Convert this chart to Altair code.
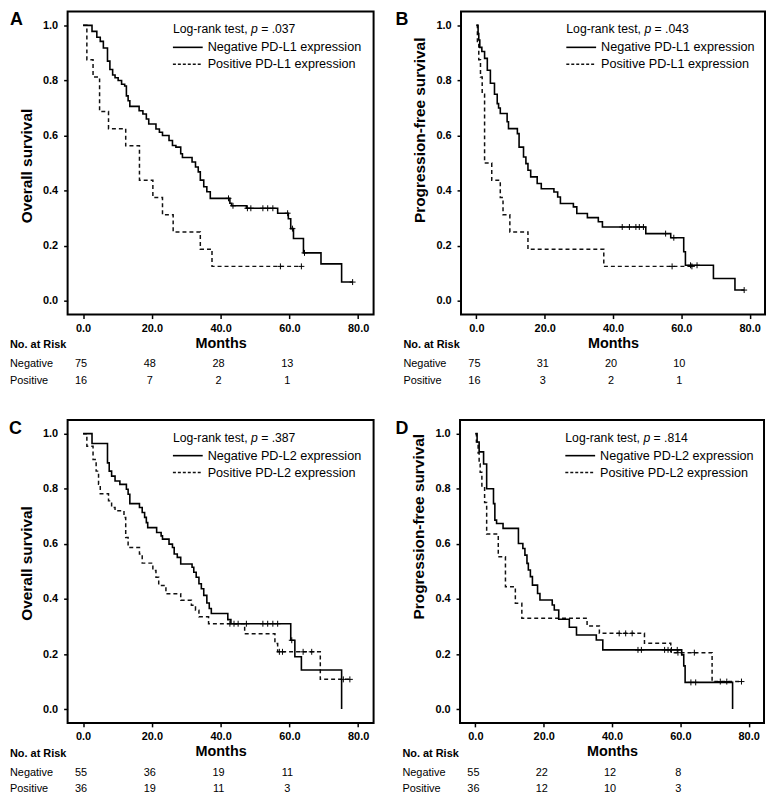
import altair as alt
import pandas as pd

FONT = "Liberation Sans"
H = 305
W_LEFT, W_RIGHT = 308, 306

RISK_MONTHS = [0, 20, 40, 60]

# ---------- Panel A: PD-L1, overall survival ----------
A_neg_t = [0, 2.6, 4.0, 5.0, 5.9, 7.1, 7.8, 8.6, 9.3, 10.2, 11.2, 12.1, 12.6, 13.1, 13.6, 16.3, 17.4, 18.4, 19.1,
           21.2, 22.2, 23.1, 25.0, 26.0, 27.0, 28.4, 28.9, 31.7, 32.7, 33.5, 34.1, 35.1, 36.0, 37.0, 42.7, 43.2,
           47.5, 56.6, 59.7, 60.4, 61.2, 64.1, 69.2, 75.2, 78.4]
A_neg_s = [1.0, 0.978, 0.957, 0.942, 0.918, 0.87, 0.84, 0.82, 0.81, 0.80, 0.786, 0.78, 0.744, 0.726, 0.706, 0.69,
           0.678, 0.66, 0.642, 0.624, 0.612, 0.60, 0.582, 0.564, 0.558, 0.534, 0.52, 0.504, 0.486, 0.468, 0.438,
           0.414, 0.396, 0.372, 0.354, 0.345, 0.336, 0.318, 0.298, 0.262, 0.226, 0.174, 0.134, 0.068, 0.068]
A_pos_t = [0, 1.1, 2.9, 4.8, 7.4, 12.4, 16.4, 20.3, 23.1, 26.2, 34.1, 37.5, 63.5]
A_pos_s = [1.0, 0.875, 0.8125, 0.6875, 0.625, 0.5625, 0.4375, 0.375, 0.3125, 0.25, 0.1875, 0.125, 0.125]
A_neg_cens = [42.3, 43.6, 47.8, 48.8, 52.3, 53.7, 55.2, 59.5, 60.9, 64.4, 78.4]
A_pos_cens = [57.4, 63.5]
A_risk_neg = [75, 48, 28, 13]
A_risk_pos = [16, 7, 2, 1]

# ---------- Panel B: PD-L1, progression-free survival ----------
B_neg_t = [0, 0.5, 0.7, 1.0, 1.6, 2.4, 3.2, 4.1, 5.3, 6.1, 6.5, 7.0, 9.0, 9.4, 12.0, 12.5, 13.8, 14.5, 15.1, 15.9,
           17.8, 19.0, 22.7, 23.8, 24.6, 28.4, 29.4, 32.5, 35.7, 36.9, 49.6, 56.9, 60.7, 61.2, 69.4, 75.7, 78.4]
B_neg_s = [1.0, 0.97, 0.947, 0.92, 0.905, 0.88, 0.837, 0.79, 0.75, 0.716, 0.70, 0.68, 0.65, 0.625, 0.607, 0.558,
           0.522, 0.498, 0.474, 0.45, 0.426, 0.407, 0.395, 0.377, 0.353, 0.341, 0.317, 0.302, 0.287, 0.268, 0.244,
           0.229, 0.178, 0.129, 0.081, 0.039, 0.039]
B_pos_t = [0, 0.3, 0.7, 1.2, 1.7, 2.4, 4.5, 7.0, 7.8, 9.8, 15.1, 37.3, 63.1]
B_pos_s = [1.0, 0.9375, 0.875, 0.8125, 0.75, 0.5, 0.4375, 0.375, 0.3125, 0.25, 0.1875, 0.125, 0.125]
B_neg_cens = [42.7, 44.8, 46.7, 47.7, 48.9, 55.4, 57.8, 62.7, 64.6, 78.4]
B_pos_cens = [57.3, 63.1]
B_risk_neg = [75, 31, 20, 10]
B_risk_pos = [16, 3, 2, 1]

# ---------- Panel C: PD-L2, overall survival ----------
C_neg_t = [0, 2.6, 7.1, 7.6, 8.3, 9.3, 10.7, 12.6, 13.1, 13.6, 16.4, 17.2, 17.9, 18.4, 18.8, 21.4, 22.7, 23.1,
           25.0, 26.0, 26.5, 27.4, 28.4, 31.7, 32.2, 32.9, 33.7, 34.4, 35.1, 36.0, 36.7, 37.3, 42.1, 43.0, 60.4,
           61.6, 63.5, 75.2]
C_neg_s = [1.0, 0.964, 0.894, 0.864, 0.846, 0.828, 0.816, 0.798, 0.78, 0.746, 0.732, 0.714, 0.696, 0.677, 0.659,
           0.641, 0.629, 0.617, 0.599, 0.587, 0.563, 0.551, 0.527, 0.515, 0.497, 0.479, 0.455, 0.437, 0.413, 0.385,
           0.365, 0.347, 0.325, 0.31, 0.25, 0.19, 0.142, 0.0]
C_pos_t = [0, 1.1, 2.9, 3.8, 4.5, 5.0, 7.4, 8.3, 9.3, 11.9, 12.4, 13.1, 16.4, 17.2, 20.3, 21.2, 22.0, 24.1, 28.4,
           31.5, 32.7, 33.7, 36.5, 47.0, 55.8, 56.6, 69.0, 77.6]
C_pos_s = [1.0, 0.954, 0.906, 0.864, 0.816, 0.782, 0.756, 0.732, 0.72, 0.696, 0.623, 0.587, 0.563, 0.53, 0.503,
           0.479, 0.449, 0.419, 0.395, 0.377, 0.359, 0.335, 0.31, 0.274, 0.238, 0.208, 0.108, 0.108]
C_neg_cens = [43.9, 47.5, 52.3, 53.7, 55.2, 56.6, 60.7]
C_pos_cens = [42.7, 45.1, 57.1, 58.0, 64.0, 66.5, 75.7, 77.6]
C_risk_neg = [55, 36, 19, 11]
C_risk_pos = [36, 19, 11, 3]

# ---------- Panel D: PD-L2, progression-free survival ----------
D_neg_t = [0, 0.5, 1.1, 2.4, 3.3, 5.3, 5.7, 6.2, 8.1, 12.6, 13.9, 14.5, 15.1, 15.5, 16.1, 16.7, 18.2, 18.9, 22.5,
           23.1, 24.4, 27.5, 29.6, 35.4, 37.3, 60.4, 61.0, 61.4, 75.3]
D_neg_s = [1.0, 0.97, 0.934, 0.89, 0.80, 0.746, 0.686, 0.674, 0.656, 0.601, 0.583, 0.559, 0.529, 0.505, 0.481,
           0.45, 0.42, 0.396, 0.378, 0.36, 0.326, 0.297, 0.269, 0.251, 0.215, 0.197, 0.157, 0.097, 0.0]
D_pos_t = [0, 0.3, 0.8, 1.1, 1.4, 1.9, 2.7, 3.3, 6.7, 8.8, 11.7, 13.6, 32.7, 36.3, 49.5, 57.2, 69.3, 77.9]
D_pos_s = [1.0, 0.97, 0.93, 0.89, 0.86, 0.81, 0.75, 0.636, 0.553, 0.444, 0.384, 0.33, 0.302, 0.275, 0.239, 0.205,
           0.10, 0.10]
D_neg_cens = [47.6, 48.6, 55.4, 56.4, 57.4, 59.1, 63.1, 64.5]
D_pos_cens = [42.1, 44.0, 45.9, 59.3, 64.1, 71.7, 73.6, 77.9]
D_risk_neg = [55, 22, 12, 8]
D_risk_pos = [36, 12, 10, 3]


def surv_at(ts, ss, t):
    v = ss[0]
    for ti, si in zip(ts, ss):
        if ti <= t:
            v = si
    return v


def panel(letter, letter_x, ytitle, title_y, width, pval, marker,
          neg_t, neg_s, pos_t, pos_s, neg_c, pos_c, risk_neg, risk_pos):
    xs = alt.Scale(domain=[-4.5, 84.5], nice=False, zero=False)
    ys = alt.Scale(domain=[-0.05, 1.05], nice=False, zero=False)
    xaxis = alt.Axis(values=[0, 20, 40, 60, 80], format=".1f", title="Months",
                     titleFontSize=14.5, titlePadding=3, labelPadding=4, labelFlush=False)
    yaxis = alt.Axis(values=[0, 0.2, 0.4, 0.6, 0.8, 1.0], format=".1f", title=ytitle,
                     titleFontSize=15.5, titlePadding=8, labelPadding=6, titleY=title_y)
    X = alt.X("t:Q", scale=xs, axis=xaxis)
    Y = alt.Y("s:Q", scale=ys, axis=yaxis)

    neg_df = pd.DataFrame({"t": neg_t, "s": neg_s})
    pos_df = pd.DataFrame({"t": pos_t, "s": pos_s})
    cens_df = pd.DataFrame(
        [{"t": t, "s": surv_at(neg_t, neg_s, t)} for t in neg_c]
        + [{"t": t, "s": surv_at(pos_t, pos_s, t)} for t in pos_c])
    rneg = pd.DataFrame({"t": RISK_MONTHS, "n": [str(v) for v in risk_neg]})
    rpos = pd.DataFrame({"t": RISK_MONTHS, "n": [str(v) for v in risk_pos]})

    line_neg = alt.Chart(neg_df).mark_line(interpolate="step-after", color="black", strokeWidth=1.6).encode(X, Y)
    line_pos = alt.Chart(pos_df).mark_line(interpolate="step-after", color="#111111", strokeWidth=1.5,
                                           strokeDash=[4, 3]).encode(X, Y)
    cens = alt.Chart(cens_df).mark_point(shape="M-1,0L1,0M0,-1L0,1", filled=False, size=36,
                                         color="black", strokeWidth=1, opacity=1).encode(X, Y)
    txt = dict(font=FONT, color="black", fontSize=11, baseline="middle")
    risk_n = alt.Chart(rneg).mark_text(align="center", dx=-2, **txt).encode(x=X, y=alt.value(H + 50), text="n:N")
    risk_p = alt.Chart(rpos).mark_text(align="center", dx=-2, **txt).encode(x=X, y=alt.value(H + 67), text="n:N")

    one = alt.Data(values=[{"a": 1}])
    ann = []
    ann.append(alt.Chart(one).mark_text(align="left", font=FONT, fontSize=11, fontWeight="bold", color="black",
                                        baseline="middle").encode(x=alt.value(-58), y=alt.value(H + 31),
                                                                  text=alt.value("No. at Risk")))
    ann.append(alt.Chart(one).mark_text(align="left", **txt).encode(
        x=alt.value(-58), y=alt.value(H + 50), text=alt.value("Negative")))
    ann.append(alt.Chart(one).mark_text(align="left", **txt).encode(
        x=alt.value(-58), y=alt.value(H + 67), text=alt.value("Positive")))
    ann.append(alt.Chart(one).mark_text(align="left", font=FONT, fontSize=18, fontWeight="bold", color="black",
                                        baseline="alphabetic").encode(
        x=alt.value(letter_x), y=alt.value(14), text=alt.value(letter)))
    lt = dict(font=FONT, fontSize=12.3, color="black", baseline="middle", align="left")
    ann.append(alt.Chart(one).mark_text(**lt).encode(
        x=alt.value(106), y=alt.value(18), text=alt.value("Log-rank test,")))
    ann.append(alt.Chart(one).mark_text(fontStyle="italic", **lt).encode(
        x=alt.value(184.6), y=alt.value(18), text=alt.value("p")))
    ann.append(alt.Chart(one).mark_text(**lt).encode(
        x=alt.value(194.8), y=alt.value(18), text=alt.value("= " + pval)))
    ann.append(alt.Chart(one).mark_rule(color="black", strokeWidth=1.6).encode(
        x=alt.value(106), x2=alt.value(136), y=alt.value(36)))
    ann.append(alt.Chart(one).mark_rule(color="#111111", strokeWidth=1.5, strokeDash=[3, 2]).encode(
        x=alt.value(106), x2=alt.value(136), y=alt.value(53)))
    lg = dict(font=FONT, fontSize=12.7, color="black", baseline="middle", align="left")
    ann.append(alt.Chart(one).mark_text(**lg).encode(
        x=alt.value(141), y=alt.value(36), text=alt.value(f"Negative {marker} expression")))
    ann.append(alt.Chart(one).mark_text(**lg).encode(
        x=alt.value(141), y=alt.value(53), text=alt.value(f"Positive {marker} expression")))

    return alt.layer(line_pos, line_neg, cens, risk_n, risk_p, *ann).properties(width=width, height=H)


pA = panel("A", -58, "Overall survival", 155, W_LEFT, ".037", "PD-L1",
           A_neg_t, A_neg_s, A_pos_t, A_pos_s, A_neg_cens, A_pos_cens, A_risk_neg, A_risk_pos)
pB = panel("B", -66, "Progression-free survival", 119, W_RIGHT, ".043", "PD-L1",
           B_neg_t, B_neg_s, B_pos_t, B_pos_s, B_neg_cens, B_pos_cens, B_risk_neg, B_risk_pos)
pC = panel("C", -59, "Overall survival", 144, W_LEFT, ".387", "PD-L2",
           C_neg_t, C_neg_s, C_pos_t, C_pos_s, C_neg_cens, C_pos_cens, C_risk_neg, C_risk_pos)
pD = panel("D", -65, "Progression-free survival", 107, W_RIGHT, ".814", "PD-L2",
           D_neg_t, D_neg_s, D_pos_t, D_pos_s, D_neg_cens, D_pos_cens, D_risk_neg, D_risk_pos)

chart = alt.vconcat(
    alt.hconcat(pA, pB, spacing=20),
    alt.hconcat(pC, pD, spacing=20),
    spacing=32,
).properties(padding=0, background="white").configure_view(
    stroke="black", strokeWidth=2
).configure_axis(
    labelFont=FONT, labelFontWeight="bold", labelFontSize=11, labelColor="black",
    titleFont=FONT, titleFontWeight="bold", titleColor="black",
    tickColor="black", tickSize=4, tickWidth=1.5, domain=False, grid=False,
)

chart.save("out.html", embed_options={"renderer": "svg", "actions": False})
